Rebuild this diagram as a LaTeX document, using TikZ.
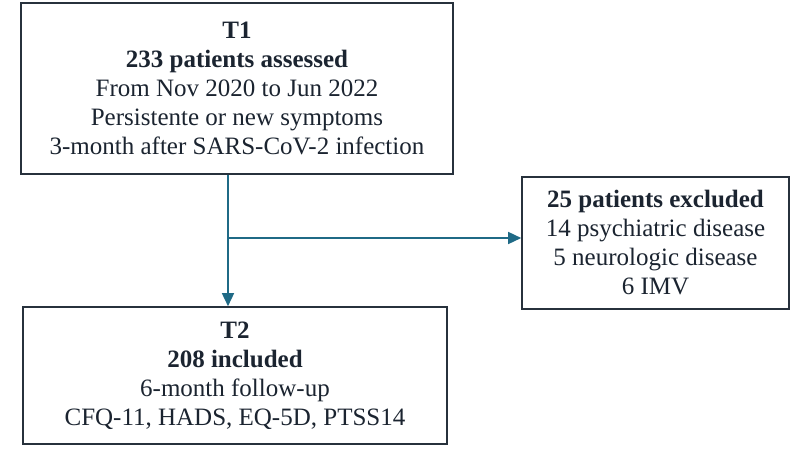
\documentclass[tikz,border=0pt]{standalone}
\usepackage{fontspec}
\setmainfont{Liberation Serif}
\usetikzlibrary{arrows.meta}
\definecolor{flow}{HTML}{1F6A86}
\definecolor{ink}{HTML}{1B2430}
\definecolor{edge}{HTML}{27313C}
\begin{document}
\begin{tikzpicture}[x=1pt,y=-1pt,
  box/.style={draw=edge,line width=1.6pt,align=center,inner sep=0pt,text=ink,
    font=\fontsize{25}{29}\selectfont},
  flowline/.style={draw=flow,line width=1.5pt},
  flowarrow/.style={flowline,-{Triangle[length=13pt,width=12pt]}}]
\useasboundingbox[fill=white] (0,0) rectangle (800,460);
\node[box,minimum width=432pt,minimum height=171pt] (t1) at (237,88.5)
  {\textbf{T1}\\\textbf{233 patients assessed}\\From Nov 2020 to Jun 2022\\Persistente or new symptoms\\3-month after SARS-CoV-2 infection};
\node[box,minimum width=424pt,minimum height=137pt] (t2) at (235,375.5)
  {\textbf{T2}\\\textbf{208 included}\\6-month follow-up\\CFQ-11, HADS, EQ-5D, PTSS14};
\node[box,minimum width=267pt,minimum height=132pt] (ex) at (655.5,243)
  {\textbf{25 patients excluded}\\14 psychiatric disease\\5 neurologic disease\\6 IMV};
\coordinate (top) at (228,174.8);
\coordinate (bot) at (228,306.2);
\coordinate (br) at (228,238);
\draw[flowarrow] (top) -- (bot);
\draw[flowarrow] (br) -- (br -| ex.west);
\end{tikzpicture}
\end{document}
